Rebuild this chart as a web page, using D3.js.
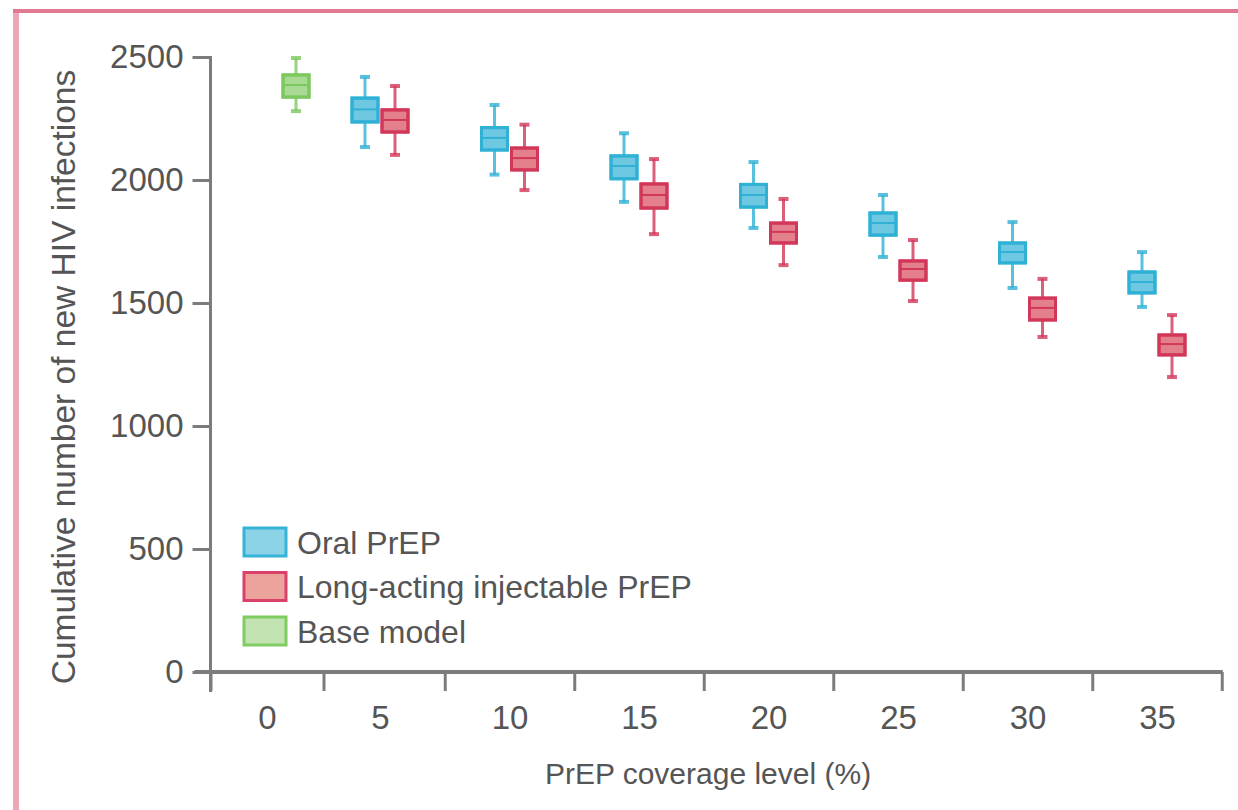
<!DOCTYPE html>
<html>
<head>
<meta charset="utf-8">
<script src="https://cdn.jsdelivr.net/npm/d3@7"></script>
<style>
  body { margin: 0; background: #fff; }
  text { font-family: "Liberation Sans", Arial, sans-serif; fill: #555; }
</style>
</head>
<body>
<svg id="chart" width="1238" height="810"></svg>
<script>
// coverage levels (%) on the x axis
const coverage = [0, 5, 10, 15, 20, 25, 30, 35];
const yTicks = [0, 500, 1000, 1500, 2000, 2500];

// box stats: [coverage, min, q1, median, q3, max]
const baseModel = [[0, 2280, 2337, 2382, 2427, 2496]];
const oralPrep = [
    [5, 2134, 2236, 2283, 2333, 2419],
    [10, 2022, 2122, 2167, 2213, 2305],
    [15, 1911, 2005, 2053, 2098, 2190],
    [20, 1805, 1890, 1935, 1982, 2073],
    [25, 1687, 1776, 1821, 1866, 1939],
    [30, 1561, 1663, 1703, 1744, 1829],
    [35, 1484, 1541, 1581, 1626, 1707]
];
const injectablePrep = [
    [5, 2102, 2195, 2240, 2285, 2382],
    [10, 1959, 2041, 2085, 2130, 2225],
    [15, 1780, 1886, 1935, 1984, 2085],
    [20, 1654, 1744, 1785, 1825, 1923],
    [25, 1508, 1593, 1634, 1671, 1756],
    [30, 1362, 1431, 1476, 1520, 1598],
    [35, 1199, 1289, 1329, 1370, 1451]
];

let svg = d3.select("svg#chart");

// pink frame of the figure panel
svg.append("rect").attr("x", 13).attr("y", 9).attr("width", 6).attr("height", 801).attr("fill", "#eda6b5");
svg.append("rect").attr("x", 13).attr("y", 9).attr("width", 1225).attr("height", 4).attr("fill", "#e07a90");

// the first category is a bit narrower than the rest in the original
let xScale = d3.scaleLinear().domain([0, 5, 35]).range([267, 380, 1157]);
let yScale = d3.scaleLinear().domain([0, 2500]).range([672, 57]);

let axisColor = "#7c7c7c";

// y axis
let yAxis = d3.axisLeft(yScale).tickValues(yTicks).tickSize(18).tickPadding(9).tickFormat(d3.format("d"));
let yG = svg.append("g").attr("transform", "translate(" + xScale(-2.5) + ",0)").call(yAxis);
yG.selectAll(".tick line").attr("stroke", axisColor).attr("stroke-width", 3);
yG.selectAll(".tick text").style("font-size", "33px").attr("fill", "#555");

// x axis: ticks sit between categories
let xBounds = coverage.map(c => c - 2.5).concat([37.5]);
let xAxis = d3.axisBottom(xScale).tickValues(xBounds).tickSize(19).tickFormat("");
let xG = svg.append("g").attr("transform", "translate(0," + yScale(0) + ")").call(xAxis);
xG.selectAll(".tick line").attr("stroke", axisColor).attr("stroke-width", 3);

let xLabels = d3.axisBottom(xScale).tickValues(coverage).tickSize(0).tickPadding(34);
let xlG = svg.append("g").attr("transform", "translate(0," + yScale(0) + ")").call(xLabels);
xlG.selectAll(".tick text").style("font-size", "33px").attr("fill", "#555");

d3.selectAll("path.domain").remove();

// axis lines
svg.append("line")
    .attr("x1", xScale(-2.5)).attr("x2", xScale(-2.5))
    .attr("y1", yScale(2500) - 1).attr("y2", yScale(0) + 20)
    .attr("stroke", axisColor).attr("stroke-width", 3);
svg.append("line")
    .attr("x1", xScale(-2.5) - 16).attr("x2", xScale(37.5) + 1)
    .attr("y1", yScale(0)).attr("y2", yScale(0))
    .attr("stroke", axisColor).attr("stroke-width", 4);

// axis titles
svg.append("text")
    .attr("transform", "translate(" + 75 + "," + 377 + ")rotate(-90)")
    .style("text-anchor", "middle").style("font-size", "33.5px")
    .text("Cumulative number of new HIV infections");
svg.append("text")
    .attr("x", 708).attr("y", 784)
    .style("text-anchor", "middle").style("font-size", "30px")
    .text("PrEP coverage level (%)");

// boxes
let boxWidth = 26;
let capWidth = 10;

function drawBoxes(data, offset, stroke, fill) {
    let g = svg.append("g");
    data.forEach(function (d) {
        let cx = xScale(d[0]) + offset;
        g.append("line")
            .attr("x1", cx).attr("x2", cx)
            .attr("y1", yScale(d[5])).attr("y2", yScale(d[1]))
            .attr("stroke", stroke).attr("stroke-width", 3).attr("stroke-opacity", 0.8);
        [d[1], d[5]].forEach(function (v) {
            g.append("line")
                .attr("x1", cx - capWidth / 2).attr("x2", cx + capWidth / 2)
                .attr("y1", yScale(v)).attr("y2", yScale(v))
                .attr("stroke", stroke).attr("stroke-width", 4).attr("stroke-opacity", 0.8);
        });
        g.append("rect")
            .attr("x", cx - boxWidth / 2).attr("y", yScale(d[4]))
            .attr("width", boxWidth).attr("height", yScale(d[2]) - yScale(d[4]))
            .attr("fill", fill).attr("stroke", stroke).attr("stroke-width", 3);
        g.append("rect")
            .attr("x", cx - boxWidth / 2).attr("y", yScale(d[3]) - 1)
            .attr("width", boxWidth).attr("height", yScale(d[2]) - yScale(d[3]) + 1)
            .attr("fill", "none").attr("stroke", stroke).attr("stroke-width", 2);
        g.append("rect")
            .attr("x", cx - boxWidth / 2).attr("y", yScale(d[4]))
            .attr("width", boxWidth).attr("height", yScale(d[2]) - yScale(d[4]))
            .attr("fill", "none").attr("stroke", stroke).attr("stroke-width", 3);
    });
}

drawBoxes(baseModel, 29, "#7cc85e", "#a8da94");
drawBoxes(oralPrep, -15, "#2fb1d6", "#6fc8e2");
drawBoxes(injectablePrep, 15, "#d2375a", "#e3808c");

// legend
let legendItems = [
    {label: "Oral PrEP", stroke: "#35b4d8", fill: "#8cd3e7"},
    {label: "Long-acting injectable PrEP", stroke: "#d9416a", fill: "#eca39c"},
    {label: "Base model", stroke: "#7fcc62", fill: "#c2e4b2"}
];
let legend = svg.append("g").attr("transform", "translate(244,528)");
legendItems.forEach(function (item, i) {
    legend.append("rect")
        .attr("x", 0).attr("y", i * 44.5)
        .attr("width", 42).attr("height", 28)
        .attr("fill", item.fill).attr("stroke", item.stroke).attr("stroke-width", 3);
    legend.append("text")
        .attr("x", 53).attr("y", i * 44.5 + 14).attr("dy", "0.36em")
        .style("font-size", "32px")
        .text(item.label);
});
</script>
</body>
</html>
